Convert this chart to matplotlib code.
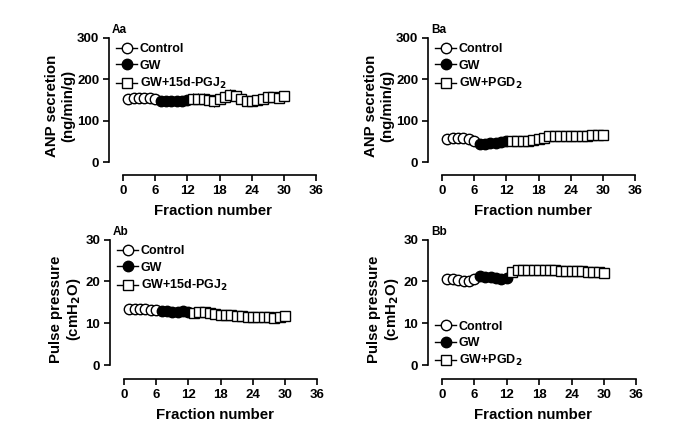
import matplotlib
matplotlib.use("Agg")
import matplotlib.pyplot as plt
from matplotlib.lines import Line2D
import numpy as np

plt.rcParams['font.family'] = ['Liberation Sans', 'DejaVu Sans']
plt.rcParams['font.weight'] = 'bold'

x_ctrl = [1, 2, 3, 4, 5, 6]
x_gw = [7, 8, 9, 10, 11, 12]
x_trt = list(range(13, 31))

# Aa: ANP secretion, GW + 15d-PGJ2
aa_ctrl = [153, 155, 155, 155, 155, 153]
aa_ctrl_err = [4, 4, 4, 4, 4, 4]
aa_gw = [148, 148, 148, 148, 148, 150]
aa_gw_err = [12, 12, 12, 12, 12, 12]
aa_trt = [153, 153, 152, 150, 148, 153, 158, 162, 160, 152, 147, 148, 150, 153, 158, 157, 155, 160]
aa_trt_err = [14, 14, 14, 14, 14, 12, 14, 14, 12, 10, 10, 10, 10, 10, 10, 10, 10, 10]

# Ba: ANP secretion, GW + PGD2
ba_ctrl = [55, 57, 57, 57, 56, 52]
ba_ctrl_err = [3, 3, 3, 3, 3, 3]
ba_gw = [43, 44, 45, 46, 48, 50]
ba_gw_err = [3, 3, 3, 3, 3, 3]
ba_trt = [52, 50, 50, 52, 53, 55, 58, 62, 63, 62, 62, 62, 62, 62, 63, 65, 66, 65]
ba_trt_err = [4, 4, 4, 4, 4, 4, 4, 5, 5, 5, 5, 5, 5, 6, 6, 6, 8, 8]

# Ab: Pulse pressure, GW + 15d-PGJ2
ab_ctrl = [13.5, 13.5, 13.5, 13.4, 13.3, 13.2]
ab_gw = [13.0, 13.0, 12.8, 12.8, 12.9, 12.8]
ab_trt = [12.5, 12.7, 12.7, 12.5, 12.2, 12.0, 12.1, 12.0, 11.8, 11.7, 11.6, 11.6, 11.6, 11.5, 11.4, 11.3, 11.5, 11.7]

# Bb: Pulse pressure, GW + PGD2
bb_ctrl = [20.6, 20.5, 20.3, 20.2, 20.2, 20.5]
bb_gw = [21.2, 21.1, 21.0, 20.9, 20.7, 20.8]
bb_trt = [22.2, 22.7, 22.8, 22.8, 22.8, 22.8, 22.7, 22.7, 22.7, 22.6, 22.6, 22.5, 22.4, 22.4, 22.3, 22.3, 22.2, 22.1]

xticks = [0, 6, 12, 18, 24, 30, 36]
W, H = 691, 426
fig = plt.figure(figsize=(W / 100, H / 100), dpi=100)


def make_ax(l, r, t, b):
    return fig.add_axes([l / W, 1 - b / H, (r - l) / W, (b - t) / H])


def style(ax, ymax, yticks, ylabel, xleft, ybot, panel):
    ax.set_xlim(xleft, 36.3)
    ax.set_ylim(ybot, ymax * 1.005)
    for s in ['top', 'right']:
        ax.spines[s].set_visible(False)
    ax.spines['left'].set_bounds(0, ymax)
    ax.spines['bottom'].set_bounds(0, 36)
    ax.spines['left'].set_linewidth(1.2)
    ax.spines['bottom'].set_linewidth(1.2)
    ax.set_xticks(xticks)
    ax.set_yticks(yticks)
    ax.tick_params(direction='out', length=4, width=1.2, labelsize=9.5, pad=3)
    for lab in ax.get_xticklabels() + ax.get_yticklabels():
        lab.set_fontweight('bold')
    ax.set_xlabel('Fraction number', fontsize=10.8, fontweight='bold', labelpad=5)
    ax.set_ylabel(ylabel, fontsize=10.8, fontweight='bold', labelpad=1.5, linespacing=1.15)
    ax.text(0.015, 1.01, panel, transform=ax.transAxes, fontsize=8.5, fontweight='bold',
            ha='left', va='bottom')


MS = 7.5


def plot_series(ax, ctrl, gw, trt, ctrl_err=None, gw_err=None, trt_err=None):
    kw = dict(color='black', lw=0.8, ms=MS, mew=1.0, capsize=0, elinewidth=0.8)
    ax.errorbar(x_ctrl, ctrl, yerr=ctrl_err, fmt='-o', mfc='white', mec='black', zorder=3, **kw)
    ax.errorbar(x_gw, gw, yerr=gw_err, fmt='-o', mfc='black', mec='black', zorder=3, **kw)
    ax.errorbar(x_trt, trt, yerr=trt_err, fmt='-s', mfc='white', mec='black', zorder=3, **kw)
    hk = dict(color='black', lw=1.0, ms=MS, mew=1.0, mec='black')
    return [Line2D([], [], marker='o', mfc='white', **hk),
            Line2D([], [], marker='o', mfc='black', **hk),
            Line2D([], [], marker='s', mfc='white', **hk)]


leg_kw = dict(frameon=False, fontsize=9, handlelength=1.7, handletextpad=0.2,
              labelspacing=0.35, borderaxespad=0.0)

# Aa
ax = make_ax(109, 318, 37, 175)
hs = plot_series(ax, aa_ctrl, aa_gw, aa_trt, aa_ctrl_err, aa_gw_err, aa_trt_err)
style(ax, 300, [0, 100, 200, 300], 'ANP secretion\n(ng/min/g)', -2.6, -31, 'Aa')
ax.legend(hs, ['Control', 'GW', 'GW+15d-PGJ$_2$'], loc='upper left', bbox_to_anchor=(0.01, 0.99),
          **leg_kw)

# Ba
ax = make_ax(428, 637, 37, 175)
hs = plot_series(ax, ba_ctrl, ba_gw, ba_trt, ba_ctrl_err, ba_gw_err, ba_trt_err)
style(ax, 300, [0, 100, 200, 300], 'ANP secretion\n(ng/min/g)', -2.6, -31, 'Ba')
ax.legend(hs, ['Control', 'GW', 'GW+PGD$_2$'], loc='upper left', bbox_to_anchor=(0.01, 0.99),
          **leg_kw)

# Ab
ax = make_ax(110, 319, 239, 379)
hs = plot_series(ax, ab_ctrl, ab_gw, ab_trt)
style(ax, 30, [0, 10, 20, 30], 'Pulse pressure\n(cmH$_2$O)', -2.6, -3.3, 'Ab')
ax.legend(hs, ['Control', 'GW', 'GW+15d-PGJ$_2$'], loc='upper left', bbox_to_anchor=(0.01, 0.99),
          **leg_kw)

# Bb
ax = make_ax(428, 638, 239, 379)
hs = plot_series(ax, bb_ctrl, bb_gw, bb_trt)
style(ax, 30, [0, 10, 20, 30], 'Pulse pressure\n(cmH$_2$O)', -2.6, -3.3, 'Bb')
ax.legend(hs, ['Control', 'GW', 'GW+PGD$_2$'], loc='lower left', bbox_to_anchor=(0.01, 0.04),
          **leg_kw)

fig.savefig('out.png', dpi=100)
